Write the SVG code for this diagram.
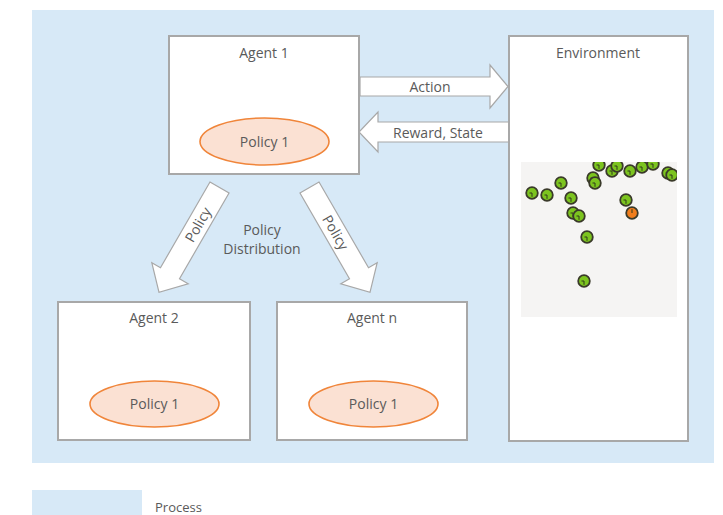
<svg xmlns="http://www.w3.org/2000/svg" width="723" height="515" viewBox="0 0 723 515">
  <defs>
    <style>
      .bg { fill: #d7e9f7; }
      .box { fill: #ffffff; stroke: #a8a8a8; stroke-width: 2; }
      .policy { fill: #fbe1d3; stroke: #f0853a; stroke-width: 1.6; }
      .label { font-family: "Open Sans", "Noto Sans", "DejaVu Sans", sans-serif; font-size: 14px; fill: #5a5a5a; text-anchor: middle; }
      .legend { font-family: "Open Sans", "Noto Sans", "DejaVu Sans", sans-serif; font-size: 13px; fill: #5a5a5a; }
      .arrow { fill: #ffffff; stroke: #a8a8a8; stroke-width: 1.2; stroke-linejoin: miter; }
      .plot { fill: #f5f4f3; }
      .dot { fill: #7cc41f; stroke: #3a3a2a; stroke-width: 1.8; }
      .dot-hot { fill: #f07d1c; stroke: #3a3a2a; stroke-width: 1.8; }
      .tick { stroke: #2f3a1a; stroke-width: 1; fill: none; }
    </style>
    <clipPath id="plotClip">
      <rect x="521" y="162" width="156" height="155"/>
    </clipPath>
    <!-- one particle: disc with a short heading mark -->
    <g id="particle">
      <circle r="5.8" class="dot"/>
      <path d="M0,0 V3.8 M0,0 H-2.5" class="tick"/>
    </g>
    <g id="particleHot">
      <circle r="5.8" class="dot-hot"/>
      <path d="M0,0 V-3.8" class="tick"/>
    </g>
  </defs>

  <!-- process area -->
  <rect class="bg" x="32" y="10" width="682" height="453"/>

  <!-- connectors -->
  <g id="connectors">
    <g id="action">
      <polygon class="arrow" points="360,77 490,77 490,65 508,86.5 490,108 490,96 360,96"/>
      <text class="label" x="430" y="92">Action</text>
    </g>
    <g id="reward-state">
      <polygon class="arrow" points="509,122 378,122 378,112 359,132 378,152 378,142 509,142"/>
      <text class="label" x="438" y="138">Reward, State</text>
    </g>
    <!-- policy distribution to Agent 2 -->
    <g id="policy-left" transform="translate(219.5,187.5) rotate(30)">
      <polygon class="arrow" points="-11,0 11,0 11,99 21,99 0,121 -21,99 -11,99"/>
      <text class="label" x="0" y="43" transform="rotate(-90 0 43) translate(0 5)">Policy</text>
    </g>
    <!-- policy distribution to Agent n -->
    <g id="policy-right" transform="translate(309.5,187.5) rotate(-30)">
      <polygon class="arrow" points="-11,0 11,0 11,99 21,99 0,121 -21,99 -11,99"/>
      <text class="label" x="0" y="52" transform="rotate(90 0 52) translate(0 5)">Policy</text>
    </g>
    <text class="label" x="262" y="235">Policy</text>
    <text class="label" x="262" y="254">Distribution</text>
  </g>

  <!-- agents -->
  <g id="agent-1">
    <rect class="box" x="169" y="36" width="190" height="138"/>
    <text class="label" x="264" y="58">Agent 1</text>
    <ellipse class="policy" cx="264.5" cy="141.5" rx="64.5" ry="23.5"/>
    <text class="label" x="264.5" y="146.5">Policy 1</text>
  </g>

  <g id="agent-2">
    <rect class="box" x="58" y="302" width="192" height="138"/>
    <text class="label" x="154" y="323">Agent 2</text>
    <ellipse class="policy" cx="154.5" cy="404" rx="64.5" ry="23"/>
    <text class="label" x="154.5" y="409">Policy 1</text>
  </g>

  <g id="agent-n">
    <rect class="box" x="277" y="302" width="190" height="138"/>
    <text class="label" x="372" y="323">Agent n</text>
    <ellipse class="policy" cx="373.5" cy="404" rx="64.5" ry="23"/>
    <text class="label" x="373.5" y="409">Policy 1</text>
  </g>

  <!-- environment with particle view -->
  <g id="environment">
    <rect class="box" x="509" y="36" width="179" height="405"/>
    <text class="label" x="598" y="58">Environment</text>
    <rect class="plot" x="521" y="162" width="156" height="155"/>
    <g clip-path="url(#plotClip)">
      <use href="#particle" x="599" y="165"/>
      <use href="#particle" x="612" y="171"/>
      <use href="#particle" x="617" y="166"/>
      <use href="#particle" x="630" y="171"/>
      <use href="#particle" x="642" y="167"/>
      <use href="#particle" x="653" y="164"/>
      <use href="#particle" x="668" y="173"/>
      <use href="#particle" x="672" y="175"/>
      <use href="#particle" x="532" y="193"/>
      <use href="#particle" x="547" y="195"/>
      <use href="#particle" x="561" y="183"/>
      <use href="#particle" x="593" y="178"/>
      <use href="#particle" x="595" y="183"/>
      <use href="#particle" x="571" y="198"/>
      <use href="#particle" x="573" y="213"/>
      <use href="#particle" x="579" y="216"/>
      <use href="#particle" x="626" y="200"/>
      <use href="#particleHot" x="632" y="213"/>
      <use href="#particle" x="587" y="237"/>
      <use href="#particle" x="584" y="281"/>
    </g>
  </g>

  <!-- legend -->
  <g id="legend">
    <rect class="bg" x="32" y="490" width="110" height="25"/>
    <text class="legend" x="155" y="512">Process</text>
  </g>
</svg>
